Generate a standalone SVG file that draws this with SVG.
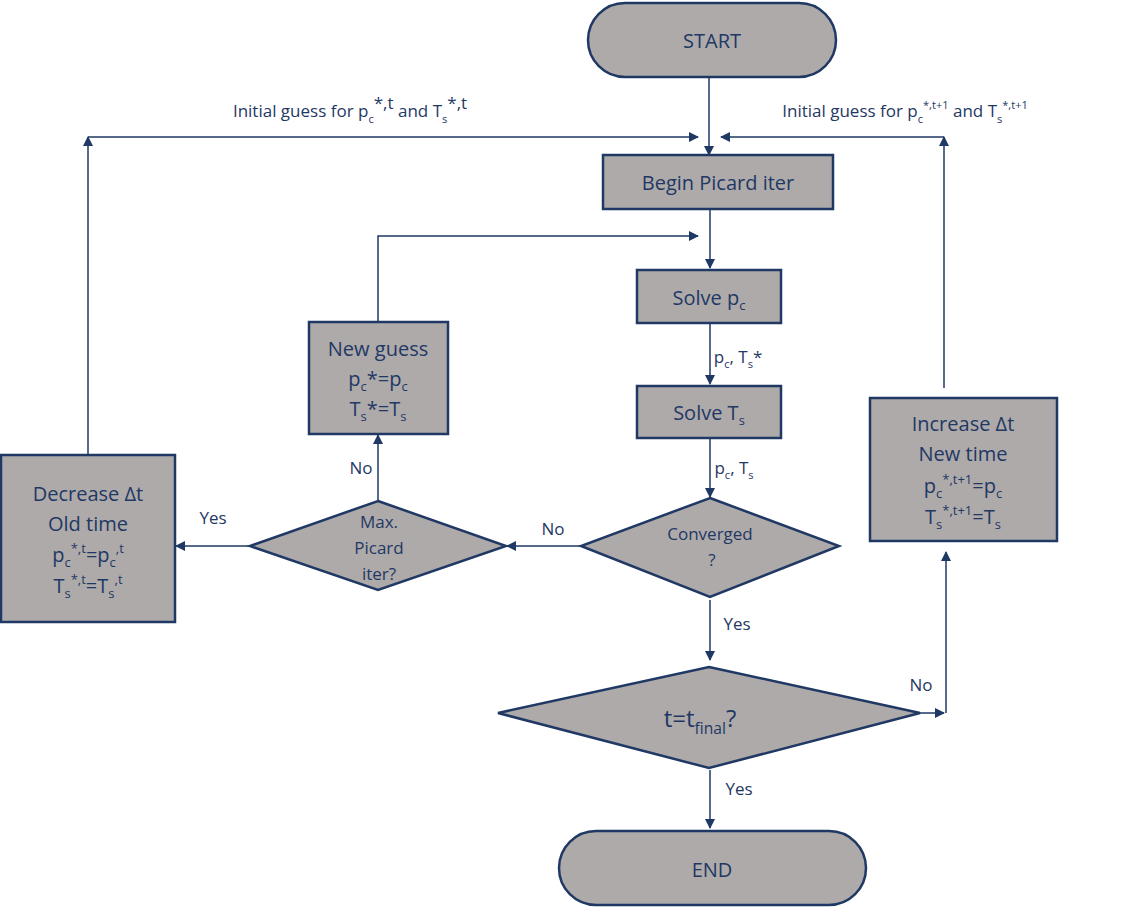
<svg xmlns="http://www.w3.org/2000/svg" width="1130" height="907" viewBox="0 0 1130 907">
<style>
.n{fill:#AEAAAA;stroke:#1F3864;stroke-width:2.5}
.c{stroke:#1F3864;stroke-width:1.5;fill:none}
text{font-family:"Open Sans","Noto Sans",sans-serif;fill:#1F3864;text-anchor:middle}
.l{font-size:17px}.b{font-size:20px}
.s{font-size:65%}
</style>
<defs><marker id="a" viewBox="0 0 10 10" refX="9" refY="5" markerWidth="10" markerHeight="10" markerUnits="userSpaceOnUse" orient="auto"><path d="M0,0L10,5L0,10z" fill="#1F3864"/></marker></defs>
<rect width="1130" height="907" fill="#fff"/>
<g id="connectors">
<line class="c" x1="709" y1="77" x2="709" y2="155" marker-end="url(#a)"/>
<line class="c" x1="88" y1="455" x2="88" y2="137" marker-end="url(#a)"/>
<line class="c" x1="88" y1="137" x2="698" y2="137" marker-end="url(#a)"/>
<line class="c" x1="944" y1="388" x2="944" y2="137" marker-end="url(#a)"/>
<line class="c" x1="944" y1="137" x2="721" y2="137" marker-end="url(#a)"/>
<line class="c" x1="710" y1="209" x2="710" y2="268" marker-end="url(#a)"/>
<polyline class="c" points="378,322 378,236 698,236" marker-end="url(#a)"/>
<line class="c" x1="710" y1="323" x2="710" y2="384" marker-end="url(#a)"/>
<line class="c" x1="710" y1="438" x2="710" y2="497" marker-end="url(#a)"/>
<line class="c" x1="581" y1="546" x2="507" y2="546" marker-end="url(#a)"/>
<line class="c" x1="378" y1="501" x2="378" y2="435" marker-end="url(#a)"/>
<line class="c" x1="250" y1="546" x2="176" y2="546" marker-end="url(#a)"/>
<line class="c" x1="710" y1="600" x2="710" y2="660" marker-end="url(#a)"/>
<line class="c" x1="920" y1="713" x2="944" y2="713" marker-end="url(#a)"/>
<line class="c" x1="946" y1="713" x2="946" y2="552" marker-end="url(#a)"/>
<line class="c" x1="710" y1="770" x2="710" y2="828" marker-end="url(#a)"/>
<text class="l" x="350" y="117">Initial guess for p<tspan class="s" dy="6">c</tspan><tspan dy="-14">*,t</tspan><tspan dy="8"> and T</tspan><tspan class="s" dy="6">s</tspan><tspan dy="-14">*,t</tspan></text>
<text class="l" x="905" y="117">Initial guess for p<tspan class="s" dy="6">c</tspan><tspan class="s" dy="-14">*,t+1</tspan><tspan dy="8"> and T</tspan><tspan class="s" dy="6">s</tspan><tspan class="s" dy="-14">*,t+1</tspan></text>
<text class="l" x="738" y="363">p<tspan class="s" dy="5">c</tspan><tspan dy="-5">, T</tspan><tspan class="s" dy="5">s</tspan><tspan dy="-5">*</tspan></text>
<text class="l" x="734" y="474">p<tspan class="s" dy="5">c</tspan><tspan dy="-5">, T</tspan><tspan class="s" dy="5">s</tspan></text>
<text class="l" x="553" y="535">No</text>
<text class="l" x="361" y="474">No</text>
<text class="l" x="213" y="524">Yes</text>
<text class="l" x="737" y="630">Yes</text>
<text class="l" x="921" y="691">No</text>
<text class="l" x="739" y="795">Yes</text>
</g>
<g id="start"><rect class="n" x="588" y="3" width="248" height="74" rx="37"/><text class="b" x="712" y="48">START</text></g>
<g id="begin"><rect class="n" x="603" y="155" width="230" height="54"/><text class="b" x="718" y="190">Begin Picard iter</text></g>
<g id="solvep"><rect class="n" x="637" y="270" width="144" height="53"/><text class="b" x="709" y="305">Solve p<tspan class="s" dy="5">c</tspan></text></g>
<g id="solvet"><rect class="n" x="637" y="386" width="144" height="52"/><text class="b" x="709" y="420">Solve T<tspan class="s" dy="5">s</tspan></text></g>
<g id="converged"><polygon class="n" points="710,498 839,546 710,597 581,546"/><text class="l" x="710" y="540">Converged</text><text class="l" x="712" y="566">?</text></g>
<g id="maxpicard"><polygon class="n" points="378,501 506,546 378,590 250,546"/><text class="l" x="379" y="528">Max.</text><text class="l" x="379" y="554">Picard</text><text class="l" x="379" y="580">iter?</text></g>
<g id="newguess"><rect class="n" x="309" y="322" width="139" height="112"/><text class="b" x="378" y="356">New guess</text><text class="b" x="378" y="386">p<tspan class="s" dy="5">c</tspan><tspan dy="-5">*=p</tspan><tspan class="s" dy="5">c</tspan></text><text class="b" x="378" y="416">T<tspan class="s" dy="5">s</tspan><tspan dy="-5">*=T</tspan><tspan class="s" dy="5">s</tspan></text></g>
<g id="decrease"><rect class="n" x="1" y="455" width="174" height="167"/><text class="b" x="88" y="501">Decrease Δt</text><text class="b" x="88" y="531">Old time</text><text class="b" x="88" y="562">p<tspan class="s" dy="5">c</tspan><tspan class="s" dy="-14">*,t</tspan><tspan dy="9">=p</tspan><tspan class="s" dy="5">c</tspan><tspan class="s" dy="-14">,t</tspan></text><text class="b" x="88" y="593">T<tspan class="s" dy="5">s</tspan><tspan class="s" dy="-14">*,t</tspan><tspan dy="9">=T</tspan><tspan class="s" dy="5">s</tspan><tspan class="s" dy="-14">,t</tspan></text></g>
<g id="increase"><rect class="n" x="870" y="398" width="187" height="143"/><text class="b" x="963" y="431">Increase Δt</text><text class="b" x="963" y="461">New time</text><text class="b" x="963" y="493">p<tspan class="s" dy="5">c</tspan><tspan class="s" dy="-14">*,t+1</tspan><tspan dy="9">=p</tspan><tspan class="s" dy="5">c</tspan></text><text class="b" x="963" y="524">T<tspan class="s" dy="5">s</tspan><tspan class="s" dy="-14">*,t+1</tspan><tspan dy="9">=T</tspan><tspan class="s" dy="5">s</tspan></text></g>
<g id="tfinal"><polygon class="n" points="709,667 920,713 709,768 498,713"/><text x="700" y="727" style="font-size:24px">t=t<tspan class="s" dy="7">final</tspan><tspan dy="-7">?</tspan></text></g>
<g id="end"><rect class="n" x="559" y="831" width="307" height="74" rx="37"/><text class="b" x="712" y="877">END</text></g>
</svg>
